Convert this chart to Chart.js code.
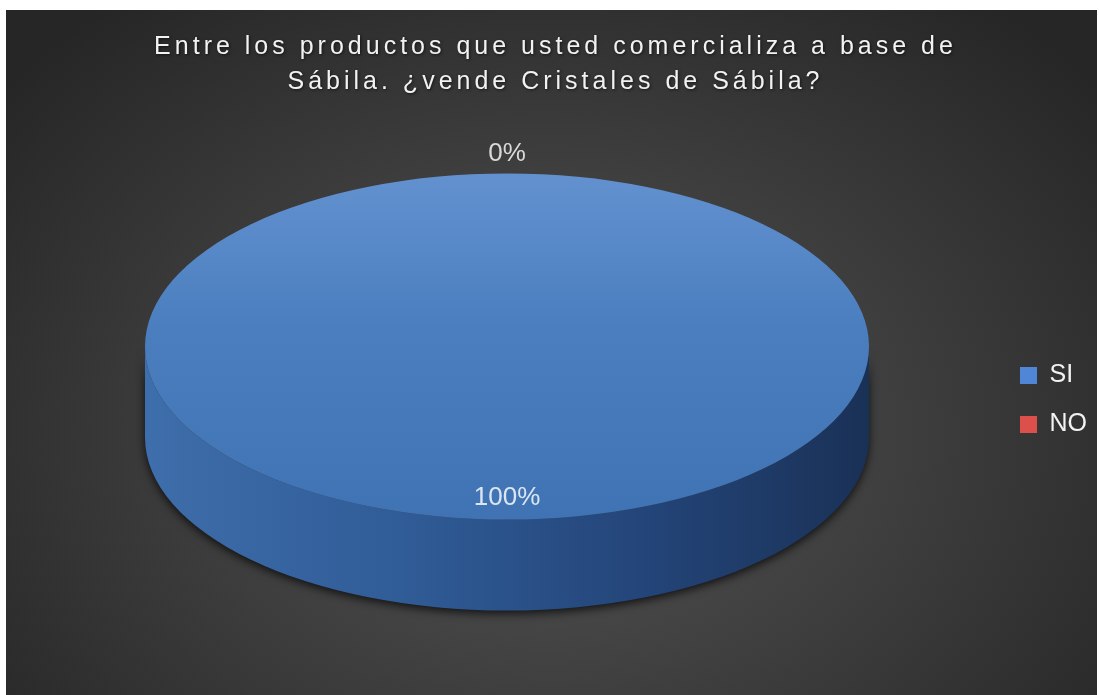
<!DOCTYPE html>
<html>
<head>
<meta charset="utf-8">
<script src="https://cdn.jsdelivr.net/npm/chart.js@4.4.1/dist/chart.umd.min.js"></script>
<style>
    html, body { margin: 0; padding: 0; background: #fff; }
    #wrap {
        position: absolute; left: 6px; top: 10px; width: 1091px; height: 685px;
        background: radial-gradient(ellipse 65% 80% at 50% 62%, #545454 0%, #404040 45%, #262626 100%);
    }
</style>
</head>
<body>
<div id="wrap"><canvas id="sabila_graph"></canvas></div>
<script>
const titleLines = ['Entre los productos que usted comercializa a base de', 'Sábila. ¿vende Cristales de Sábila?'];
const categories = ['SI', 'NO'];
const values = [100, 0];
const legendColors = ['#4f86d6', '#dc4f4a'];

// ellipse of the top face and height of the side wall
const PIE_RX = 362;
const PIE_RY = 173;
const PIE_DEPTH = 91;
const PIE_LIFT = 8;

const total = values.reduce(function (acc, cur) {
    return acc + cur;
}, 0);
const percentLabels = values.map(function (v) {
    return Math.round(v / total * 100) + '%';
});

function pieGeom(chart) {
    const arc = chart.getDatasetMeta(0).data[0];
    const r = arc.outerRadius;
    return { ax: arc.x, ay: arc.y, x: arc.x, y: arc.y - PIE_DEPTH / 2 - PIE_LIFT, r: r, sx: PIE_RX / r, sy: PIE_RY / r };
}

const pie3d = {
    id: 'pie3d',
    beforeDatasetsDraw: function (chart) {
        const ctx = chart.ctx;
        const g = pieGeom(chart);
        const d = PIE_DEPTH / g.sy;
        ctx.save();
        ctx.translate(g.x, g.y);
        ctx.scale(g.sx, g.sy);
        ctx.translate(-g.ax, -g.ay);
        // side wall, only the front half is visible
        chart.getDatasetMeta(0).data.forEach(function (a, i) {
            [-2 * Math.PI, 0, 2 * Math.PI].forEach(function (s) {
                const lo = Math.max(a.startAngle, s);
                const hi = Math.min(a.endAngle, s + Math.PI);
                if (hi <= lo) {
                    return;
                }
                const grad = ctx.createLinearGradient(g.ax - g.r, 0, g.ax + g.r, 0);
                if (i === 0) {
                    grad.addColorStop(0, '#3e6eab');
                    grad.addColorStop(0.35, '#305c97');
                    grad.addColorStop(0.7, '#234478');
                    grad.addColorStop(1, '#1a3156');
                } else {
                    grad.addColorStop(0, '#a33d3a');
                    grad.addColorStop(1, '#6a2624');
                }
                ctx.save();
                ctx.shadowColor = 'rgba(0, 0, 0, 0.75)';
                ctx.shadowBlur = 10;
                ctx.shadowOffsetY = 3;
                ctx.beginPath();
                ctx.arc(g.ax, g.ay, g.r, lo, hi);
                ctx.arc(g.ax, g.ay + d, g.r, hi, lo, true);
                ctx.closePath();
                ctx.fillStyle = grad;
                ctx.fill();
                ctx.restore();
            });
        });
    },
    afterDatasetsDraw: function (chart) {
        const ctx = chart.ctx;
        ctx.restore();
        const g = pieGeom(chart);
        ctx.save();
        ctx.font = '26px "Liberation Sans", Arial, sans-serif';
        ctx.textAlign = 'center';
        ctx.textBaseline = 'middle';
        chart.getDatasetMeta(0).data.forEach(function (a, i) {
            const mid = (a.startAngle + a.endAngle) / 2;
            const inside = values[i] > 0;
            const f = inside ? 0.873 : 1.115;
            const x = g.x + Math.cos(mid) * g.r * f * g.sx;
            const y = g.y + Math.sin(mid) * g.r * f * g.sy;
            ctx.fillStyle = inside ? '#dce6f2' : '#d9d9d9';
            ctx.fillText(percentLabels[i], x, y);
        });
        ctx.restore();
    },
    afterDraw: function (chart) {
        const ctx = chart.ctx;
        ctx.save();
        ctx.font = '25px "Liberation Sans", Arial, sans-serif';
        ctx.letterSpacing = '4px';
        ctx.textAlign = 'center';
        ctx.textBaseline = 'middle';
        ctx.fillStyle = '#f2f2f2';
        ctx.shadowColor = 'rgba(0, 0, 0, 0.6)';
        ctx.shadowBlur = 3;
        ctx.shadowOffsetX = 1;
        ctx.shadowOffsetY = 1;
        titleLines.forEach(function (line, i) {
            ctx.fillText(line, chart.width / 2 + 4, 37 + i * 35);
        });
        ctx.restore();
    }
};

new Chart(document.getElementById('sabila_graph'), {
    type: 'pie',
    data: {
        labels: categories,
        datasets: [{
            data: values,
            borderWidth: 0,
            backgroundColor: function (context) {
                const chart = context.chart;
                const area = chart.chartArea;
                if (context.dataIndex === 1) {
                    return '#c0504d';
                }
                if (!area) {
                    return '#4a7ebe';
                }
                const grad = chart.ctx.createLinearGradient(0, area.top, 0, area.bottom);
                grad.addColorStop(0, '#6391d0');
                grad.addColorStop(0.45, '#4a7ebe');
                grad.addColorStop(1, '#3f73b3');
                return grad;
            }
        }]
    },
    options: {
        responsive: true,
        maintainAspectRatio: false,
        animation: false,
        events: [],
        layout: {
            padding: { top: 110, bottom: 15, left: 12, right: 0 }
        },
        plugins: {
            tooltip: { enabled: false },
            legend: {
                position: 'right',
                labels: {
                    color: '#f2f2f2',
                    font: { family: '"Liberation Sans", Arial, sans-serif', size: 25 },
                    boxWidth: 17,
                    boxHeight: 17,
                    padding: 24,
                    generateLabels: function () {
                        return categories.map(function (c, i) {
                            return {
                                text: c,
                                fillStyle: legendColors[i],
                                strokeStyle: legendColors[i],
                                lineWidth: 0,
                                fontColor: '#f2f2f2',
                                index: i
                            };
                        });
                    }
                }
            }
        }
    },
    plugins: [pie3d]
});
</script>
</body>
</html>
